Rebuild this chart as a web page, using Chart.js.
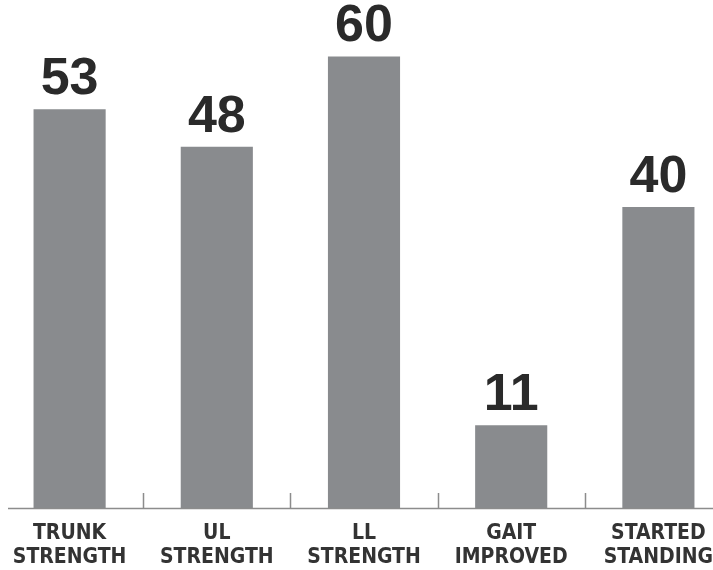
<!DOCTYPE html>
<html>
<head>
<meta charset="utf-8">
<script src="https://cdn.jsdelivr.net/npm/chart.js@4.4.1/dist/chart.umd.min.js"></script>
<style>
  html, body { margin: 0; padding: 0; background: #fff; }
  #wrap { position: relative; width: 713px; height: 570px; overflow: hidden; }
  #chart { position: absolute; left: -4px; top: 0; }
</style>
</head>
<body>
<div id="wrap"><canvas id="chart" width="736" height="570"></canvas></div>
<script>
var categories = [
    ['TRUNK', 'STRENGTH'],
    ['UL', 'STRENGTH'],
    ['LL', 'STRENGTH'],
    ['GAIT', 'IMPROVED'],
    ['STARTED', 'STANDING']
];
var values = [53, 48, 60, 11, 40];

var barColor = '#898b8e';
var textColor = '#2a2a2a';
var axisColor = '#8c8c8c';

// value numbers above bars, plus baseline with short ticks between categories
var decorPlugin = {
    id: 'decor',
    afterDatasetsDraw: function (chart) {
        var ctx = chart.ctx;
        var meta = chart.getDatasetMeta(0);
        var xScale = chart.scales.x;
        var area = chart.chartArea;

        ctx.save();
        ctx.strokeStyle = axisColor;
        ctx.lineWidth = 1.5;
        ctx.beginPath();
        ctx.moveTo(area.left + 12, area.bottom + 0.5);
        ctx.lineTo(area.right, area.bottom + 0.5);
        for (var i = 0; i < values.length - 1; i++) {
            var x = Math.round((xScale.getPixelForValue(i) + xScale.getPixelForValue(i + 1)) / 2) + 0.5;
            ctx.moveTo(x, area.bottom);
            ctx.lineTo(x, area.bottom - 15);
        }
        ctx.stroke();

        ctx.fillStyle = textColor;
        ctx.font = 'bold 52px "Liberation Sans", Arial, sans-serif';
        ctx.textAlign = 'center';
        ctx.textBaseline = 'alphabetic';
        meta.data.forEach(function (bar, idx) {
            ctx.fillText(String(values[idx]), bar.x, bar.y - 15);
        });
        ctx.restore();
    }
};

new Chart(document.getElementById('chart').getContext('2d'), {
    type: 'bar',
    data: {
        labels: categories,
        datasets: [{
            data: values,
            backgroundColor: barColor,
            borderWidth: 0,
            barPercentage: 0.49,
            categoryPercentage: 1
        }]
    },
    options: {
        responsive: false,
        animation: false,
        layout: { padding: 0 },
        plugins: {
            legend: { display: false },
            tooltip: { enabled: false }
        },
        scales: {
            x: {
                grid: { display: false },
                border: { display: false },
                afterFit: function (scale) { scale.height = 62; },
                ticks: {
                    color: '#333',
                    padding: 5,
                    maxRotation: 0,
                    autoSkip: false,
                    font: { family: '"Liberation Sans Narrow", "DejaVu Sans Condensed", sans-serif', weight: 'bold', size: 21, lineHeight: 1.15 }
                }
            },
            y: {
                display: false,
                min: 0,
                max: 67.5
            }
        }
    },
    plugins: [decorPlugin]
});
</script>
</body>
</html>
